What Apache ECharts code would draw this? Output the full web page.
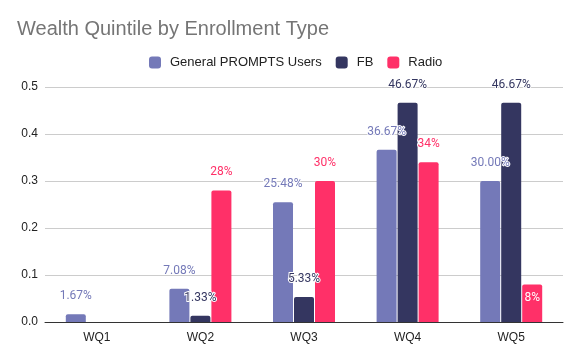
<!DOCTYPE html>
<html><head><meta charset="utf-8">
<script src="https://cdn.jsdelivr.net/npm/echarts@6/dist/echarts.min.js"></script>
<style>html,body{margin:0;padding:0;background:#fff}#c{width:581px;height:360px}</style>
</head><body><div id="c"></div>
<script>
const categories = ['WQ1','WQ2','WQ3','WQ4','WQ5'];
const generalUsers = [0.0167, 0.0708, 0.2548, 0.3667, 0.3000];
const fb = [0, 0.0133, 0.0533, 0.4667, 0.4667];
const radio = [0, 0.28, 0.30, 0.34, 0.08];
const yTicks = [0, 0.1, 0.2, 0.3, 0.4, 0.5];

const chart = echarts.init(document.getElementById('c'));
const baseLabel = (color, dec) => ({
  show: true, position: 'top', distance: 12, color: color, fontSize: 12,
  fontFamily: 'Roboto', textBorderColor: '#fff', textBorderWidth: 2,
  formatter: p => p.value ? (p.value * 100).toFixed(dec) + '%' : ''
});
const radioData = radio.map(v => v > 0 && v < 0.1
  ? { value: v, label: { position: 'insideTop', distance: 8, color: '#fff', textBorderWidth: 0 } }
  : v);
chart.setOption({
  animation: false,
  title: { text: 'Wealth Quintile by Enrollment Type', left: 12, top: 14,
    textStyle: { fontSize: 20, fontWeight: 'normal', color: '#757575', fontFamily: 'Liberation Sans' } },
  legend: { top: 51, left: 144, itemWidth: 12, itemHeight: 12, itemGap: 14, icon: 'roundRect',
    textStyle: { fontSize: 13, color: '#222', fontFamily: 'Liberation Sans', padding: [0,0,0,4] } },
  grid: { left: 45, right: 18, top: 87, bottom: 38, containLabel: false },
  xAxis: { type: 'category', data: categories,
    axisLine: { lineStyle: { color: '#333' } }, axisTick: { show: false },
    axisLabel: { color: '#222', fontSize: 12, fontFamily: 'Liberation Sans', margin: 10 } },
  yAxis: { type: 'value', min: 0, max: 0.5, interval: 0.1,
    axisLabel: { color: '#222', fontSize: 12, fontFamily: 'Liberation Sans', margin: 7,
      formatter: v => v.toFixed(1) },
    splitLine: { lineStyle: { color: '#ccc' } } },
  series: [
    { name: 'General PROMPTS Users', type: 'bar', data: generalUsers, barWidth: 20, barGap: '5%',
      itemStyle: { color: '#7479b8', borderRadius: [2,2,0,0] }, label: baseLabel('#7479b8', 2) },
    { name: 'FB', type: 'bar', data: fb, barWidth: 20, barGap: '5%',
      itemStyle: { color: '#343660', borderRadius: [2,2,0,0] }, label: baseLabel('#343660', 2) },
    { name: 'Radio', type: 'bar', data: radioData, barWidth: 20, barGap: '5%',
      itemStyle: { color: '#ff3068', borderRadius: [2,2,0,0] }, label: baseLabel('#ff3068', 0) }
  ]
});
</script></body></html>
